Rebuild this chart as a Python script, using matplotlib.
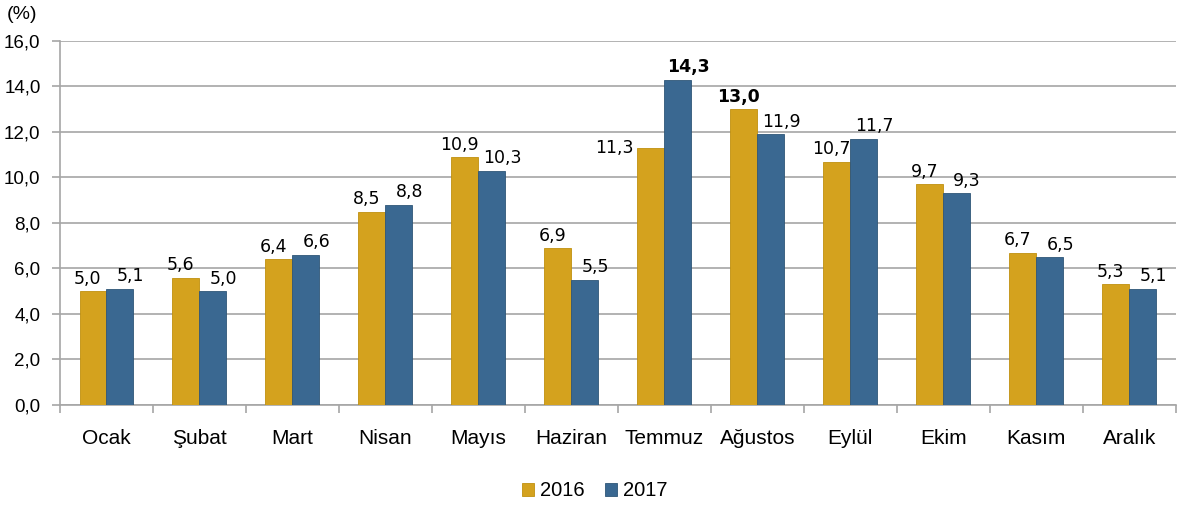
import numpy as np
import matplotlib.pyplot as plt

months = ['Ocak', 'Şubat', 'Mart', 'Nisan', 'Mayıs', 'Haziran', 'Temmuz',
          'Ağustos', 'Eylül', 'Ekim', 'Kasım', 'Aralık']
y2016 = [5.0, 5.6, 6.4, 8.5, 10.9, 6.9, 11.3, 13.0, 10.7, 9.7, 6.7, 5.3]
y2017 = [5.1, 5.0, 6.6, 8.8, 10.3, 5.5, 14.3, 11.9, 11.7, 9.3, 6.5, 5.1]
yticks = [0, 2, 4, 6, 8, 10, 12, 14, 16]

c16 = '#D4A21E'
c17 = '#3A6891'

plt.rcParams['font.family'] = ['Liberation Sans', 'DejaVu Sans']

fig = plt.figure(figsize=(11.9, 5.08), dpi=100)
ax = fig.add_axes([0.0504, 0.2028, 0.9376, 0.7165])

x = np.arange(len(months))
w = 0.29
b1 = ax.bar(x - w/2, y2016, w, color=c16, edgecolor='#c0900f', linewidth=0.6, label='2016', zorder=3)
b2 = ax.bar(x + w/2, y2017, w, color=c17, edgecolor='#2f5678', linewidth=0.6, label='2017', zorder=3)

def fmt(v):
    return f'{v:.1f}'.replace('.', ',')

# value labels
for i in range(len(months)):
    v1, v2 = y2016[i], y2017[i]
    bold1 = v1 == max(y2016)
    bold2 = v2 == max(y2017)
    if months[i] == 'Temmuz':
        ax.annotate(fmt(v1), (x[i] - w, v1), xytext=(-3, 0), textcoords='offset points',
                    ha='right', va='center', fontsize=12.5, family='DejaVu Sans')
    else:
        ax.annotate(fmt(v1), (x[i] - w/2, v1), xytext=(-4, 9), textcoords='offset points',
                    ha='center', va='center', fontsize=12.5, family='DejaVu Sans',
                    fontweight='bold' if bold1 else 'normal')
    ax.annotate(fmt(v2), (x[i] + w/2, v2), xytext=(7.5, 9), textcoords='offset points',
                ha='center', va='center', fontsize=12.5, family='DejaVu Sans',
                fontweight='bold' if bold2 else 'normal')

ax.set_ylim(0, 16)
ax.set_xlim(-0.5, len(months) - 0.5)
ax.set_yticks(yticks)
ax.set_yticklabels([fmt(t) for t in yticks], fontsize=13.5)
ax.yaxis.grid(True, color='#a6a6a6', linewidth=1.2, zorder=0)
ax.set_axisbelow(True)

ax.set_xticks(x)
ax.set_xticklabels(months, fontsize=15)
ax.set_xticks(np.arange(-0.5, len(months)), minor=True)
ax.tick_params(axis='x', which='major', length=0, pad=17)
ax.tick_params(axis='x', which='minor', length=6, color='#a6a6a6', width=1.2)
ax.tick_params(axis='y', length=6, color='#a6a6a6', width=1.2, pad=8)

for s in ['top', 'right']:
    ax.spines[s].set_visible(False)
for s in ['left', 'bottom']:
    ax.spines[s].set_color('#a6a6a6')
    ax.spines[s].set_linewidth(1.2)

fig.text(0.006, 0.972, '(%)', fontsize=14, ha='left', va='center')

fig.legend(handles=[b1, b2], loc='center', bbox_to_anchor=(0.5, 0.034), ncol=2,
           frameon=False, fontsize=14.5, handlelength=0.6, handleheight=0.6,
           handletextpad=0.3, columnspacing=1.0)

fig.savefig('out.png', dpi=100)
